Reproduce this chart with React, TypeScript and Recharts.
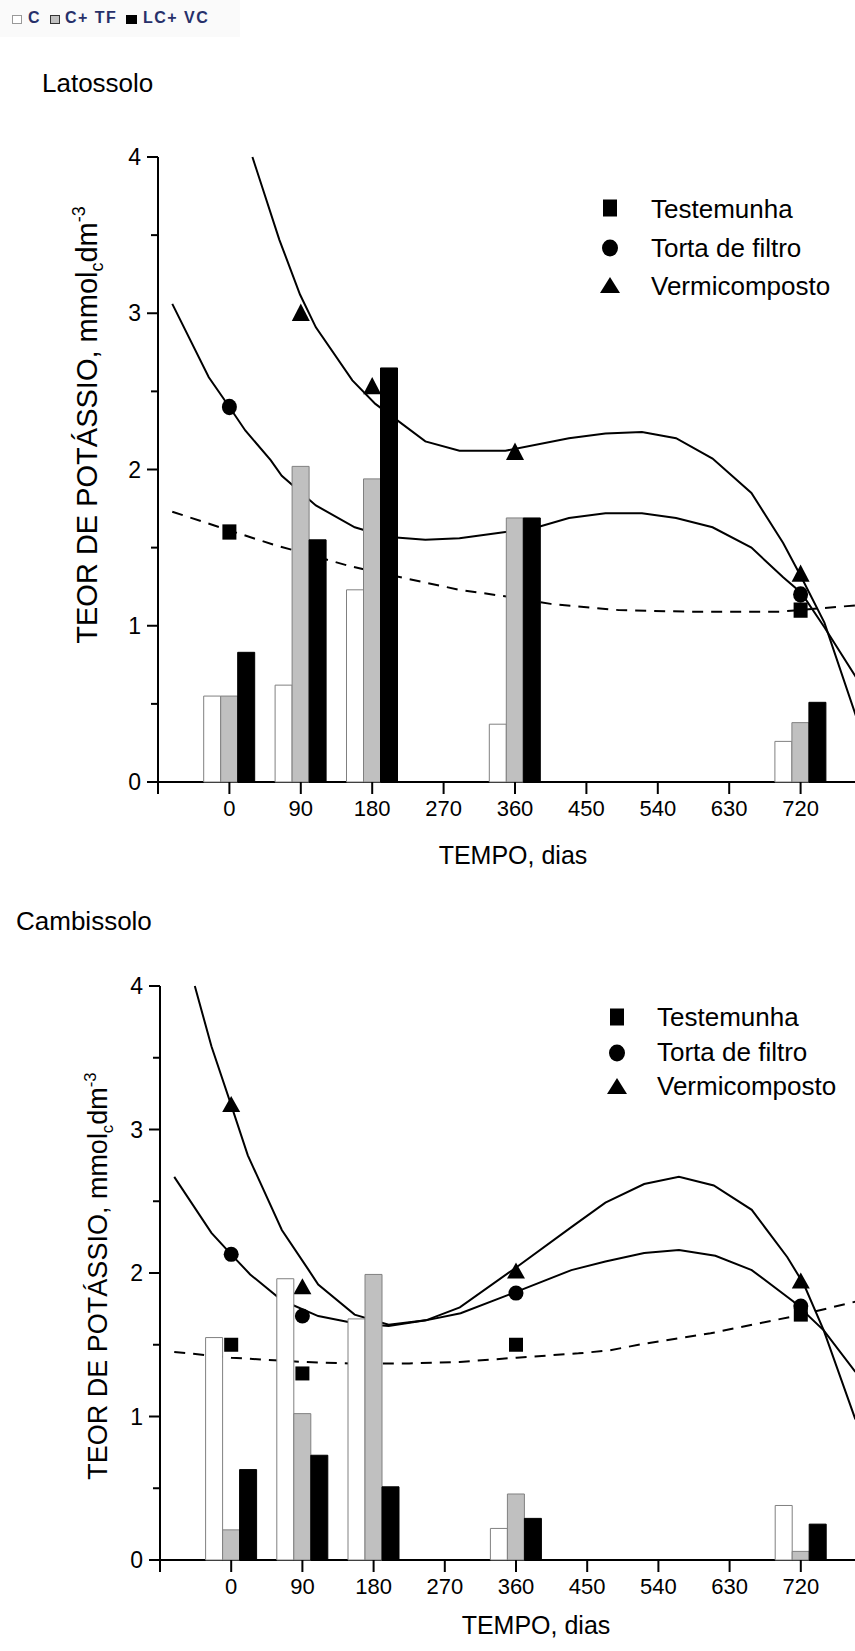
import { ComposedChart, Bar, Line, Scatter, XAxis, YAxis } from "recharts";

const FONT = '"Liberation Sans", Arial, Helvetica, sans-serif';

const days = [0, 90, 180, 360, 720];
const xTicks = [-90, 0, 90, 180, 270, 360, 450, 540, 630, 720, 810];
const yTicks = [0, 0.5, 1, 1.5, 2, 2.5, 3, 3.5, 4];

// Latossolo - bars
const latC = [0.55, 0.62, 1.23, 0.37, 0.26];
const latCTF = [0.55, 2.02, 1.94, 1.69, 0.38];
const latLCVC = [0.83, 1.55, 2.65, 1.69, 0.51];

// Latossolo - measured points
const latTestDays = [0, 720];
const latTestVals = [1.6, 1.1];
const latTortaDays = [0, 720];
const latTortaVals = [2.4, 1.2];
const latVermiDays = [90, 180, 360, 720];
const latVermiVals = [3.0, 2.53, 2.11, 1.33];

// Latossolo - fitted curves
const latTestCurveDays = [-72, 0, 55, 153, 216, 290, 359, 405, 491, 578, 693, 789];
const latTestCurveVals = [1.73, 1.61, 1.52, 1.38, 1.31, 1.23, 1.18, 1.14, 1.1, 1.09, 1.09, 1.13];
const latTortaCurveDays = [-72, -26, 0, 20, 52, 66, 109, 158, 198, 247, 290, 348, 388, 428, 474, 520, 563, 609, 658, 698, 721, 750, 790];
const latTortaCurveVals = [3.06, 2.59, 2.4, 2.25, 2.06, 1.96, 1.77, 1.63, 1.57, 1.55, 1.56, 1.6, 1.63, 1.69, 1.72, 1.72, 1.69, 1.63, 1.5, 1.31, 1.21, 0.99, 0.67];
const latVermiCurveDays = [29, 63, 89, 109, 155, 184, 247, 290, 348, 428, 474, 520, 563, 609, 658, 698, 721, 750, 790];
const latVermiCurveVals = [4.0, 3.47, 3.12, 2.91, 2.57, 2.42, 2.18, 2.12, 2.12, 2.2, 2.23, 2.24, 2.2, 2.07, 1.85, 1.53, 1.31, 1.02, 0.42];

// Cambissolo - bars
const camC = [1.55, 1.96, 1.68, 0.22, 0.38];
const camCTF = [0.21, 1.02, 1.99, 0.46, 0.06];
const camLCVC = [0.63, 0.73, 0.51, 0.29, 0.25];

// Cambissolo - measured points
const camTestDays = [0, 90, 360, 720];
const camTestVals = [1.5, 1.3, 1.5, 1.71];
const camTortaDays = [0, 90, 360, 720];
const camTortaVals = [2.13, 1.7, 1.86, 1.77];
const camVermiDays = [0, 90, 360, 720];
const camVermiVals = [3.17, 1.9, 2.01, 1.94];

// Cambissolo - fitted curves
const camTestCurveDays = [-72, 0, 91, 150, 225, 289, 361, 439, 477, 525, 606, 721, 789];
const camTestCurveVals = [1.45, 1.41, 1.38, 1.37, 1.37, 1.38, 1.41, 1.44, 1.46, 1.51, 1.58, 1.71, 1.8];
const camTortaCurveDays = [-72, -25, 0, 24, 64, 110, 156, 199, 246, 290, 361, 430, 473, 522, 566, 612, 658, 711, 749, 789];
const camTortaCurveVals = [2.67, 2.28, 2.13, 1.99, 1.81, 1.7, 1.65, 1.63, 1.67, 1.72, 1.87, 2.02, 2.08, 2.14, 2.16, 2.12, 2.02, 1.8, 1.6, 1.31];
const camVermiCurveDays = [-46, -25, 0, 21, 64, 98, 110, 156, 199, 246, 289, 358, 430, 473, 522, 566, 610, 658, 703, 724, 749, 789];
const camVermiCurveVals = [4.0, 3.58, 3.17, 2.82, 2.3, 2.02, 1.92, 1.71, 1.64, 1.67, 1.76, 2.03, 2.32, 2.49, 2.62, 2.67, 2.61, 2.44, 2.11, 1.92, 1.6, 0.98];

const pairs = (d: number[], v: number[]) => d.map((day, i) => ({ day, value: v[i] }));
const barRows = (c: number[], ctf: number[], lcvc: number[]) =>
  days.map((day, i) => ({ day, c: c[i], ctf: ctf[i], lcvc: lcvc[i] }));

const XTick = (props: any) => {
  const { x, y, payload } = props;
  const v = payload.value;
  return (
    <g>
      <line x1={x} y1={y} x2={x} y2={y + 12} stroke="#000" strokeWidth={2} />
      {v >= 0 && v <= 720 && (
        <text x={x} y={y + 34} textAnchor="middle" fontFamily={FONT} fontSize={22} fill="#000">
          {v}
        </text>
      )}
    </g>
  );
};

const YTick = (props: any) => {
  const { x, y, payload } = props;
  const major = Number.isInteger(payload.value);
  return (
    <g>
      <line x1={x - (major ? 11 : 7)} y1={y} x2={x} y2={y} stroke="#000" strokeWidth={2} />
      {major && (
        <text x={x - 17} y={y + 8} textAnchor="end" fontFamily={FONT} fontSize={23} fill="#000">
          {payload.value}
        </text>
      )}
    </g>
  );
};

const YTitle = ({ tx, ty, size }: any) => (
  <text
    x={tx}
    y={ty}
    transform={`rotate(-90, ${tx}, ${ty})`}
    textAnchor="middle"
    fontFamily={FONT}
    fontSize={size}
    fill="#000"
  >
    TEOR DE POTÁSSIO, mmol
    <tspan fontSize={size * 0.62} dy={size * 0.22}>c</tspan>
    <tspan dy={-size * 0.22}>dm</tspan>
    <tspan fontSize={size * 0.62} dy={-size * 0.42}>-3</tspan>
  </text>
);

const XTitle = ({ tx, ty }: any) => (
  <text x={tx} y={ty} textAnchor="middle" fontFamily={FONT} fontSize={25} fill="#000">
    TEMPO, dias
  </text>
);

const squareShape = (sy: number) => (p: any) =>
  <rect x={p.cx - 7} y={p.cy - 7 * sy} width={14} height={14 * sy} fill="#000" />;
const circleShape = (sy: number) => (p: any) =>
  <ellipse cx={p.cx} cy={p.cy} rx={7.5} ry={7.5 * sy} fill="#000" />;
const triangleShape = (sy: number) => (p: any) =>
  <polygon points={`${p.cx},${p.cy - 9 * sy} ${p.cx - 9},${p.cy + 7 * sy} ${p.cx + 9},${p.cy + 7 * sy}`} fill="#000" />;

function Panel(p: any) {
  const xAxisHeight = p.height - p.plotTop - p.plotHeight;
  return (
    <div style={{ position: "absolute", left: 0, top: p.top, width: 855, height: p.height, overflow: "hidden" }}>
      <ComposedChart
        width={872}
        height={p.height}
        data={p.bars}
        margin={{ top: p.plotTop, right: 0, bottom: 0, left: 0 }}
        barGap={0}
        barSize={17}
      >
        <XAxis
          xAxisId="bars"
          dataKey="day"
          type="number"
          domain={[-90, 810]}
          ticks={xTicks}
          interval={0}
          height={xAxisHeight}
          tickSize={0}
          tickMargin={0}
          tickLine={false}
          axisLine={{ stroke: "#000", strokeWidth: 2 }}
          tick={<XTick />}
          label={<XTitle tx={p.xTitle[0]} ty={p.xTitle[1]} />}
        />
        <XAxis xAxisId="pts" dataKey="day" type="number" domain={[-90, 810]} hide />
        <YAxis
          type="number"
          domain={[0, 4]}
          ticks={yTicks}
          interval={0}
          width={p.axisWidth}
          tickSize={0}
          tickMargin={0}
          tickLine={false}
          axisLine={{ stroke: "#000", strokeWidth: 2 }}
          tick={<YTick />}
          label={<YTitle tx={p.yTitle[0]} ty={p.yTitle[1]} size={p.yTitle[2]} />}
        />
        <Line xAxisId="pts" data={p.testCurve} dataKey="value" type="linear" stroke="#000" strokeWidth={2}
          strokeDasharray="11 8" dot={false} activeDot={false} isAnimationActive={false} />
        <Line xAxisId="pts" data={p.tortaCurve} dataKey="value" type="linear" stroke="#000" strokeWidth={2}
          dot={false} activeDot={false} isAnimationActive={false} />
        <Line xAxisId="pts" data={p.vermiCurve} dataKey="value" type="linear" stroke="#000" strokeWidth={2}
          dot={false} activeDot={false} isAnimationActive={false} />
        <Scatter xAxisId="pts" data={p.testPts} dataKey="value" shape={squareShape(p.sy)} isAnimationActive={false} />
        <Scatter xAxisId="pts" data={p.tortaPts} dataKey="value" shape={circleShape(p.sy)} isAnimationActive={false} />
        <Scatter xAxisId="pts" data={p.vermiPts} dataKey="value" shape={triangleShape(p.sy)} isAnimationActive={false} />
        <Bar xAxisId="bars" dataKey="c" fill="#ffffff" stroke="#808080" strokeWidth={1} isAnimationActive={false} zIndex={700} />
        <Bar xAxisId="bars" dataKey="ctf" fill="#c0c0c0" stroke="#808080" strokeWidth={1} isAnimationActive={false} zIndex={700} />
        <Bar xAxisId="bars" dataKey="lcvc" fill="#000000" stroke="#000000" strokeWidth={1} isAnimationActive={false} zIndex={700} />
      </ComposedChart>
    </div>
  );
}

function SeriesLegend({ mx, tx, rows }: { mx: number; tx: number; rows: number[][] }) {
  const labels = ["Testemunha", "Torta de filtro", "Vermicomposto"];
  return (
    <g>
      {rows.map(([cy, base], i) => (
        <g key={i}>
          {i === 0 && <rect x={mx - 7} y={cy - 8.5} width={14} height={17} fill="#000" />}
          {i === 1 && <ellipse cx={mx} cy={cy} rx={8} ry={8.5} fill="#000" />}
          {i === 2 && <polygon points={`${mx},${cy - 9} ${mx - 10},${cy + 7} ${mx + 10},${cy + 7}`} fill="#000" />}
          <text x={tx} y={base} fontFamily={FONT} fontSize={26} fill="#000">{labels[i]}</text>
        </g>
      ))}
    </g>
  );
}

export default function App() {
  return (
    <div style={{ position: "absolute", left: 0, top: 0, width: 855, height: 1651, overflow: "hidden", background: "#fff" }}>
      <Panel
        top={0}
        height={880}
        plotTop={157}
        plotHeight={625}
        axisWidth={158}
        sy={1.09}
        bars={barRows(latC, latCTF, latLCVC)}
        testPts={pairs(latTestDays, latTestVals)}
        tortaPts={pairs(latTortaDays, latTortaVals)}
        vermiPts={pairs(latVermiDays, latVermiVals)}
        testCurve={pairs(latTestCurveDays, latTestCurveVals)}
        tortaCurve={pairs(latTortaCurveDays, latTortaCurveVals)}
        vermiCurve={pairs(latVermiCurveDays, latVermiCurveVals)}
        yTitle={[97, 425, 29]}
        xTitle={[513, 864]}
      />
      <Panel
        top={900}
        height={751}
        plotTop={86}
        plotHeight={574}
        axisWidth={160}
        sy={1}
        bars={barRows(camC, camCTF, camLCVC)}
        testPts={pairs(camTestDays, camTestVals)}
        tortaPts={pairs(camTortaDays, camTortaVals)}
        vermiPts={pairs(camVermiDays, camVermiVals)}
        testCurve={pairs(camTestCurveDays, camTestCurveVals)}
        tortaCurve={pairs(camTortaCurveDays, camTortaCurveVals)}
        vermiCurve={pairs(camVermiCurveDays, camVermiCurveVals)}
        yTitle={[107, 376, 27]}
        xTitle={[536, 734]}
      />
      <svg width={855} height={1651} style={{ position: "absolute", left: 0, top: 0, pointerEvents: "none" }}>
        <rect x={0} y={0} width={240} height={37} fill="#fafafa" />
        <rect x={12.5} y={15.5} width={9} height={8} fill="#fff" stroke="#999" />
        <text x={28} y={23} fontFamily={FONT} fontSize={16} fontWeight="bold" fill="#27306a" letterSpacing={1.5}>C</text>
        <rect x={50.5} y={15.5} width={9} height={8} fill="#c0c0c0" stroke="#333" />
        <text x={65} y={23} fontFamily={FONT} fontSize={16} fontWeight="bold" fill="#27306a" letterSpacing={1.5}>C+ TF</text>
        <rect x={126} y={15} width={11} height={9} fill="#000" />
        <text x={143} y={23} fontFamily={FONT} fontSize={16} fontWeight="bold" fill="#27306a" letterSpacing={1.5}>LC+ VC</text>
        <text x={42} y={92} fontFamily={FONT} fontSize={26} fill="#000">Latossolo</text>
        <text x={16} y={930} fontFamily={FONT} fontSize={26} fill="#000">Cambissolo</text>
        <SeriesLegend mx={610} tx={651} rows={[[208, 218], [248, 257], [286, 295]]} />
        <SeriesLegend mx={617} tx={657} rows={[[1017, 1026], [1053, 1061], [1087, 1095]]} />
      </svg>
    </div>
  );
}
